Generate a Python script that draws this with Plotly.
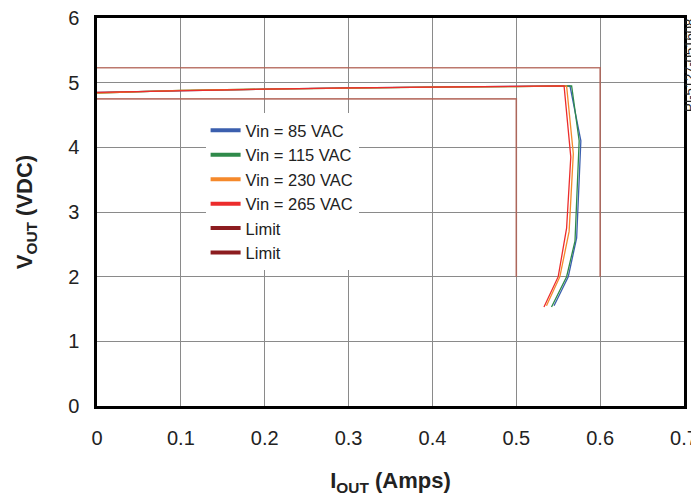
import plotly.graph_objects as go

# ---- data ----
iout_85 = [0.0, 0.1, 0.2, 0.3, 0.4, 0.5, 0.564, 0.577, 0.572, 0.562, 0.545]
vout_85 = [4.85, 4.88, 4.90, 4.92, 4.93, 4.94, 4.95, 4.10, 2.60, 2.00, 1.55]
iout_115 = [0.0, 0.1, 0.2, 0.3, 0.4, 0.5, 0.566, 0.575, 0.570, 0.560, 0.542]
vout_115 = [4.84, 4.88, 4.90, 4.92, 4.93, 4.94, 4.95, 4.10, 2.55, 2.00, 1.53]
iout_230 = [0.0, 0.1, 0.2, 0.3, 0.4, 0.5, 0.560, 0.568, 0.563, 0.552, 0.536]
vout_230 = [4.84, 4.88, 4.90, 4.92, 4.93, 4.94, 4.95, 3.90, 2.70, 2.00, 1.55]
iout_265 = [0.0, 0.1, 0.2, 0.3, 0.4, 0.5, 0.557, 0.565, 0.560, 0.550, 0.533]
vout_265 = [4.85, 4.88, 4.90, 4.92, 4.93, 4.94, 4.95, 3.85, 2.75, 2.00, 1.53]
limit_hi_i = [0.0, 0.6, 0.6]
limit_hi_v = [5.23, 5.23, 2.0]
limit_lo_i = [0.0, 0.5, 0.5]
limit_lo_v = [4.75, 4.75, 2.0]

series = [
    ("Vin = 85 VAC", iout_85, vout_85, "#3b5fae"),
    ("Vin = 115 VAC", iout_115, vout_115, "#2f8a4a"),
    ("Vin = 230 VAC", iout_230, vout_230, "#f5892b"),
    ("Vin = 265 VAC", iout_265, vout_265, "#ec2c2c"),
]
limits = [
    ("Limit", limit_hi_i, limit_hi_v, "#8c1c1f"),
    ("Limit", limit_lo_i, limit_lo_v, "#8c1c1f"),
]

xticks = [0, 0.1, 0.2, 0.3, 0.4, 0.5, 0.6, 0.7]
xticklabels = ["0", "0.1", "0.2", "0.3", "0.4", "0.5", "0.6", "0.7"]
yticks = [0, 1, 2, 3, 4, 5, 6]

fig = go.Figure()
FONT = "Liberation Sans, Arial, sans-serif"

for name, x, y, c in limits:
    fig.add_trace(go.Scatter(x=x, y=y, mode="lines", showlegend=False,
                             line=dict(color="rgba(176,96,84,0.85)", width=1.6)))
for name, x, y, c in series:
    fig.add_trace(go.Scatter(x=x, y=y, mode="lines", showlegend=False,
                             line=dict(color=c, width=1.3)))
# legend entries
for name, x, y, c in series + limits:
    fig.add_trace(go.Scatter(x=[None], y=[None], mode="lines", name=name,
                             line=dict(color=c, width=4)))

# page body has an 8px margin, so the figure is sized/offset to compensate
fig.update_layout(
    width=691, height=488,
    margin=dict(l=89, r=15, t=10, b=90),
    paper_bgcolor="white", plot_bgcolor="white",
    font=dict(family=FONT, size=20, color="#222"),
    legend=dict(x=0.185, y=0.755, xanchor="left", yanchor="top",
                bgcolor="white", borderwidth=0, itemwidth=30,
                font=dict(size=16.5, family=FONT), tracegroupgap=0),
    xaxis=dict(range=[0, 0.7], tickvals=xticks, ticktext=xticklabels,
               showgrid=True, gridcolor="#8a8a8a", gridwidth=1,
               showline=True, linecolor="black", linewidth=2.5, mirror=True,
               zeroline=False, ticks="", ticklabelstandoff=12, automargin=False,
               ticklabeloverflow="allow",
               title=dict(text="<b>I<sub>OUT</sub> (Amps)</b>", font=dict(size=22), standoff=26)),
    yaxis=dict(range=[0, 6], tickvals=yticks,
               showgrid=True, gridcolor="#8a8a8a", gridwidth=1,
               showline=True, linecolor="black", linewidth=2.5, mirror=True,
               zeroline=False, ticks="", ticklabelstandoff=11, automargin=False,
               ticklabeloverflow="allow",
               title=dict(text="<b>V<sub>OUT</sub> (VDC)</b>", font=dict(size=22), standoff=30)),
    annotations=[dict(text="PI-5127-051608", xref="paper", yref="paper",
                      x=1.0, y=1.0, xanchor="right", yanchor="top", xshift=14,
                      textangle=-90, showarrow=False, borderpad=0,
                      font=dict(size=13, family=FONT, color="#222"))],
)

fig.write_html("out.html")
